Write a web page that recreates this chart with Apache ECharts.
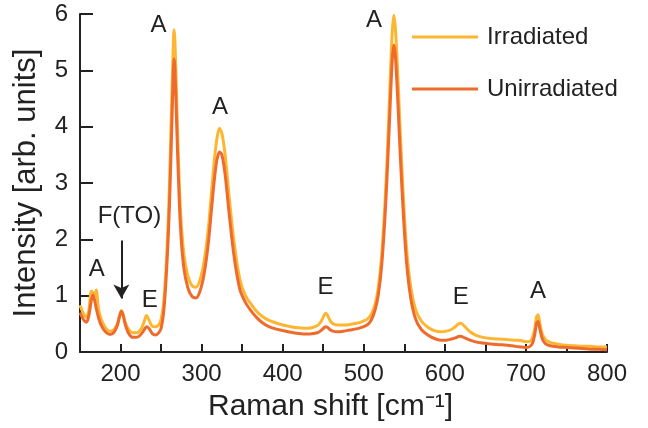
<!DOCTYPE html>
<html>
<head>
<meta charset="utf-8">
<script src="https://cdn.jsdelivr.net/npm/echarts@6/dist/echarts.min.js"></script>
<style>
  html, body { margin: 0; padding: 0; background: #fff; }
  #chart { width: 648px; height: 428px; }
</style>
</head>
<body>
<div id="chart"></div>
<script>
// Raman shift (cm-1) sample positions
const shift = [150,155,158,161,164,166,168,170,173,177,182,187,192,196,199,201,203,206,210,215,220,225,229,232,235,239,243,247,250,253,256,259,261,263,265,266,267,269,271,274,278,283,288,293,298,303,308,312,316,319,322,325,329,334,340,347,354,361,368,375,383,391,400,410,420,430,438,444,448,451,453,455,458,462,468,475,483,491,498,504,509,514,518,522,526,529,532,535,537,539,542,545,549,553,558,564,571,579,587,595,602,608,613,616,619,622,626,631,638,647,657,667,677,687,695,701,705,708,711,713,715,717,720,724,730,740,750,760,770,780,790,800]

const irradiated = [0.83,0.66,0.62,0.75,1.08,1.05,0.98,1.10,0.75,0.55,0.42,0.37,0.40,0.50,0.66,0.73,0.68,0.52,0.40,0.34,0.34,0.40,0.53,0.65,0.57,0.46,0.45,0.48,0.58,0.85,1.45,2.4,3.3,4.4,5.4,5.72,5.55,4.6,3.6,2.5,1.75,1.35,1.18,1.15,1.28,1.6,2.15,2.8,3.45,3.8,3.97,3.88,3.5,2.75,1.95,1.3,1.0,0.85,0.72,0.63,0.56,0.52,0.48,0.45,0.43,0.42,0.44,0.48,0.56,0.65,0.69,0.66,0.57,0.50,0.48,0.48,0.49,0.51,0.54,0.58,0.66,0.85,1.15,1.7,2.6,3.5,4.6,5.65,5.98,5.75,4.9,3.9,2.7,1.8,1.15,0.75,0.55,0.44,0.38,0.36,0.37,0.40,0.45,0.49,0.51,0.49,0.43,0.36,0.30,0.26,0.24,0.23,0.22,0.21,0.20,0.18,0.19,0.25,0.42,0.62,0.66,0.52,0.33,0.22,0.17,0.14,0.12,0.11,0.10,0.10,0.09,0.09]

const unirradiated = [0.70,0.56,0.53,0.65,0.92,1.01,0.92,0.78,0.60,0.45,0.35,0.31,0.35,0.47,0.64,0.73,0.66,0.48,0.33,0.26,0.26,0.31,0.39,0.45,0.42,0.33,0.30,0.34,0.42,0.68,1.25,2.1,2.9,3.9,4.9,5.2,5.05,4.15,3.25,2.2,1.5,1.14,0.99,0.96,1.08,1.38,1.9,2.5,3.1,3.42,3.55,3.5,3.15,2.45,1.7,1.12,0.88,0.73,0.61,0.52,0.45,0.41,0.38,0.35,0.33,0.32,0.33,0.35,0.39,0.43,0.45,0.44,0.40,0.37,0.36,0.37,0.39,0.41,0.44,0.48,0.56,0.75,1.02,1.52,2.35,3.2,4.2,5.15,5.45,5.25,4.45,3.5,2.4,1.55,0.95,0.58,0.40,0.30,0.24,0.21,0.21,0.23,0.25,0.27,0.28,0.27,0.24,0.21,0.18,0.16,0.14,0.13,0.12,0.10,0.09,0.08,0.10,0.15,0.32,0.50,0.54,0.42,0.24,0.15,0.11,0.09,0.08,0.07,0.06,0.05,0.05,0.04]

// peak assignment labels [shift, intensity, text]
const peakLabels = [
  [170.6, 1.46, 'A'],
  [211, 2.40, 'F(TO)'],
  [236, 0.92, 'E'],
  [246.8, 5.79, 'A'],
  [322.6, 4.35, 'A'],
  [452.7, 1.145, 'E'],
  [512.5, 5.89, 'A'],
  [619.5, 0.97, 'E'],
  [715, 1.07, 'A']
]

// arrow for F(TO): from, to
const arrowFrom = [201, 1.98]
const arrowTo = [201, 0.95]

const font = 'Liberation Sans, Arial, sans-serif'
const textColor = '#222'
const chart = echarts.init(document.getElementById('chart'))

const pairs = arr => shift.map((x, i) => [x, arr[i]])

const option = {
  animation: false,
  backgroundColor: '#fff',
  textStyle: { fontFamily: font },
  grid: { left: 80, right: 41, top: 14, bottom: 76 },
  legend: {
    data: ['Irradiated', 'Unirradiated'],
    orient: 'vertical',
    left: 412,
    top: 25,
    padding: 0,
    icon: 'rect',
    itemWidth: 66,
    itemHeight: 3,
    itemGap: 28,
    textStyle: { fontSize: 24, color: textColor, fontFamily: font, lineHeight: 24, padding: [0, 0, 0, 4] }
  },
  xAxis: {
    type: 'value',
    min: 150,
    max: 800,
    interval: 50,
    name: 'Raman shift [cm\u207B\u00B9]',
    nameLocation: 'middle',
    nameGap: 40,
    nameTextStyle: { fontSize: 30, color: textColor, fontFamily: font, padding: [0, 26, 0, 0] },
    axisLine: { lineStyle: { color: '#222', width: 2 } },
    axisTick: { inside: true, length: 8, lineStyle: { color: '#222', width: 2 } },
    axisLabel: {
      fontSize: 24, color: textColor, margin: 10, fontFamily: font,
      formatter: v => (v % 100 === 0 ? String(v) : '')
    },
    splitLine: { show: false }
  },
  yAxis: {
    type: 'value',
    min: 0,
    max: 6,
    interval: 1,
    name: 'Intensity [arb. units]',
    nameLocation: 'middle',
    nameGap: 38,
    nameTextStyle: { fontSize: 31, color: textColor, fontFamily: font },
    axisLine: { show: true, lineStyle: { color: '#222', width: 2 } },
    axisTick: { show: true, inside: true, length: 13, lineStyle: { color: '#222', width: 2 } },
    axisLabel: { fontSize: 24, color: textColor, margin: 12, fontFamily: font },
    splitLine: { show: false }
  },
  series: [
    {
      name: 'Irradiated',
      type: 'line',
      data: pairs(irradiated),
      smooth: 0.3,
      showSymbol: false,
      color: '#FDB631',
      lineStyle: { width: 3, color: '#FDB631' }
    },
    {
      name: 'Unirradiated',
      type: 'line',
      data: pairs(unirradiated),
      smooth: 0.3,
      showSymbol: false,
      color: '#EE6B2D',
      lineStyle: { width: 3, color: '#EE6B2D' },
      markLine: {
        silent: true,
        symbol: ['none', 'arrow'],
        symbolSize: [12, 14],
        label: { show: false },
        lineStyle: { color: '#222', width: 2, type: 'solid' },
        data: [[{ coord: arrowFrom }, { coord: arrowTo }]]
      }
    },
    {
      name: 'labels',
      type: 'scatter',
      symbolSize: 0,
      silent: true,
      itemStyle: { opacity: 1 },
      data: peakLabels.map(p => ({ value: [p[0], p[1]], name: p[2] })),
      label: {
        show: true,
        position: 'inside',
        formatter: p => p.name,
        fontSize: 24,
        color: textColor,
        opacity: 1,
        textBorderWidth: 0,
        fontFamily: font
      }
    }
  ]
}

chart.setOption(option)
</script>
</body>
</html>
